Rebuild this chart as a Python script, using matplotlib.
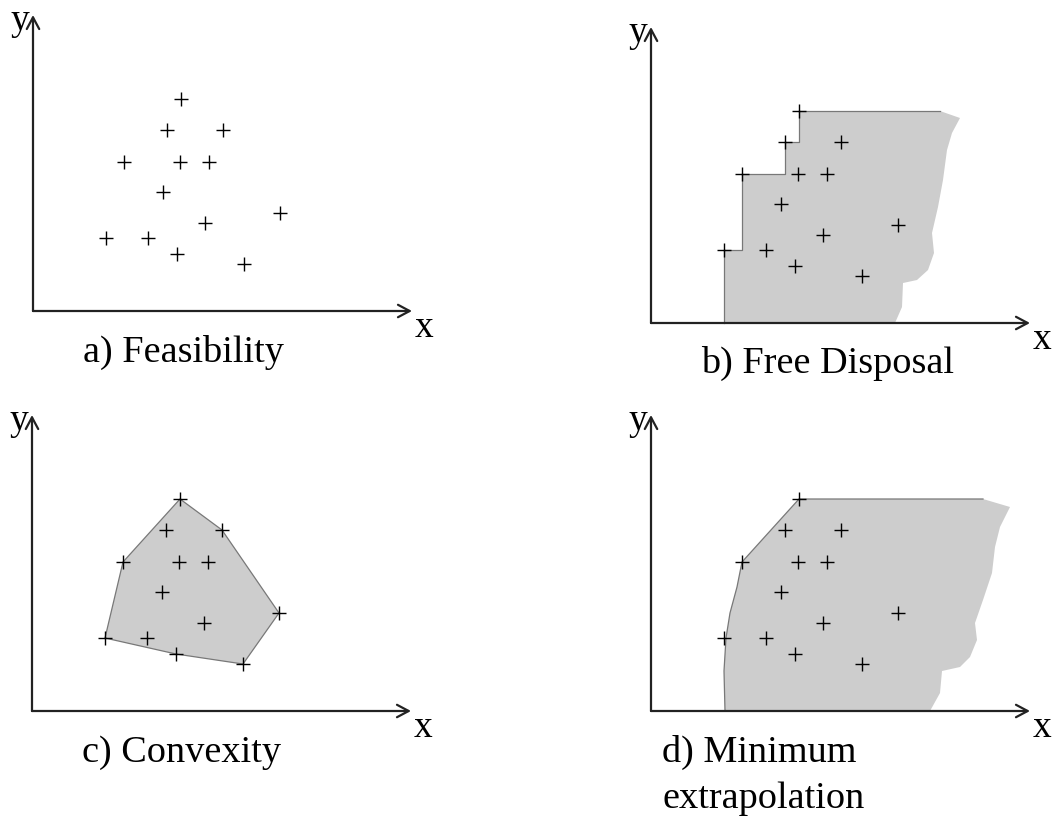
import numpy as np
import matplotlib.pyplot as plt

# observed units (x = input, y = output), same in every panel
obs_x = [148, 134, 190, 91, 147, 176, 130, 247, 172, 73, 115, 144, 211]
obs_y = [212, 181, 181, 149, 149, 149, 119, 98, 88, 73, 73, 57, 47]

# hand-drawn right-hand edge of the free disposal set (top to bottom)
fd_edge_x = [289, 309, 301, 296, 292, 287, 281, 283, 277, 266, 252, 251, 244]
fd_edge_y = [212, 205, 190, 173, 143, 116, 90, 70, 53, 43, 40, 16, 0]

# minimum extrapolation set: curved left edge below the hull and right edge
me_left_x = [86, 79, 75, 73, 74]
me_left_y = [124, 98, 73, 40, 0]
me_edge_x = [332, 359, 349, 344, 341, 332, 324, 326, 319, 309, 291, 289, 279]
me_edge_y = [212, 204, 184, 164, 138, 111, 88, 71, 54, 44, 40, 18, 0]

titles = ["a) Feasibility", "b) Free Disposal", "c) Convexity",
          "d) Minimum", "extrapolation"]

W, H = 1057, 817
FILL = "#cdcdcd"
EDGE = "#787878"
AXC = "#222222"
SERIF = "Liberation Serif"

fig = plt.figure(figsize=(W / 100, H / 100), dpi=100)


def panel(box, origin):
    l, t, r, b = box
    ox, oy = origin
    ax = fig.add_axes([l / W, 1 - b / H, (r - l) / W, (b - t) / H])
    ax.set_xlim(l - ox, r - ox)
    ax.set_ylim(oy - b, oy - t)
    ax.set_axis_off()
    # axes with open arrow heads
    for tip in [(379, 0), (0, 296)]:
        ax.annotate("", xy=tip, xytext=(0, 0),
                    arrowprops=dict(arrowstyle="->,head_length=0.6,head_width=0.32",
                                    lw=1.6, color=AXC, shrinkA=0, shrinkB=0,
                                    mutation_scale=14))
    ax.text(391, -26, "x", fontsize=27, family=SERIF, ha="center", va="baseline")
    ax.text(-13, 281, "y", fontsize=27, family=SERIF, ha="center", va="baseline")
    return ax


def points(ax):
    ax.plot(obs_x, obs_y, "+", color="black", ms=9.5, mew=1.0, zorder=5)


def frontier(xs, ys):
    # points not dominated by any unit with a smaller input
    order = np.argsort(xs, kind="stable")
    best = -np.inf
    out = []
    for i in order:
        if ys[i] > best:
            out.append((xs[i], ys[i]))
            best = ys[i]
    return out


def convex_hull(xs, ys):
    pts = sorted(set(zip(xs, ys)))

    def cross(o, a, b):
        return (a[0] - o[0]) * (b[1] - o[1]) - (a[1] - o[1]) * (b[0] - o[0])

    lower, upper = [], []
    for p in pts:
        while len(lower) >= 2 and cross(lower[-2], lower[-1], p) <= 0:
            lower.pop()
        lower.append(p)
    for p in reversed(pts):
        while len(upper) >= 2 and cross(upper[-2], upper[-1], p) <= 0:
            upper.pop()
        upper.append(p)
    return lower[:-1] + upper[:-1]


# a) Feasibility
ax = panel((0, 0, 528, 400), (33, 311))
points(ax)
ax.text(150, -51, titles[0], fontsize=27.5, family=SERIF, ha="center", va="baseline")

# b) Free Disposal
ax = panel((528, 0, 1057, 400), (651, 323))
front = frontier(obs_x, obs_y)
sx, sy = [front[0][0]], [0]
for fx, fy in front:
    sx += [fx, fx]
    sy += [sy[-1], fy]
ax.fill(sx + fd_edge_x, sy + fd_edge_y, color=FILL, lw=0, zorder=1)
ax.plot(sx + [fd_edge_x[0]], sy + [fd_edge_y[0]], color=EDGE, lw=0.9, zorder=2)
points(ax)
ax.text(177, -50, titles[1], fontsize=27.5, family=SERIF, ha="center", va="baseline")

# c) Convexity
ax = panel((0, 400, 528, 817), (32, 711))
hull = convex_hull(obs_x, obs_y)
ax.fill([p[0] for p in hull], [p[1] for p in hull], facecolor=FILL,
        edgecolor=EDGE, lw=0.9, zorder=1)
points(ax)
ax.text(150, -51, titles[2], fontsize=27.5, family=SERIF, ha="center", va="baseline")

# d) Minimum extrapolation
ax = panel((528, 400, 1057, 817), (651, 711))
top = max(hull, key=lambda p: p[1])
upper = sorted([p for p in hull if p[0] <= top[0] and p[1] >= 149],
               key=lambda p: -p[1])
lx = [p[0] for p in upper] + me_left_x
ly = [p[1] for p in upper] + me_left_y
ax.fill(lx[::-1] + me_edge_x, ly[::-1] + me_edge_y, color=FILL, lw=0, zorder=1)
ax.plot([me_edge_x[0]] + lx, [me_edge_y[0]] + ly, color=EDGE, lw=0.9, zorder=2)
points(ax)
ax.text(11, -51, titles[3], fontsize=27.5, family=SERIF, ha="left", va="baseline")
ax.text(11, -97, titles[4], fontsize=27.5, family=SERIF, ha="left", va="baseline")

fig.savefig("out.png", dpi=100)
